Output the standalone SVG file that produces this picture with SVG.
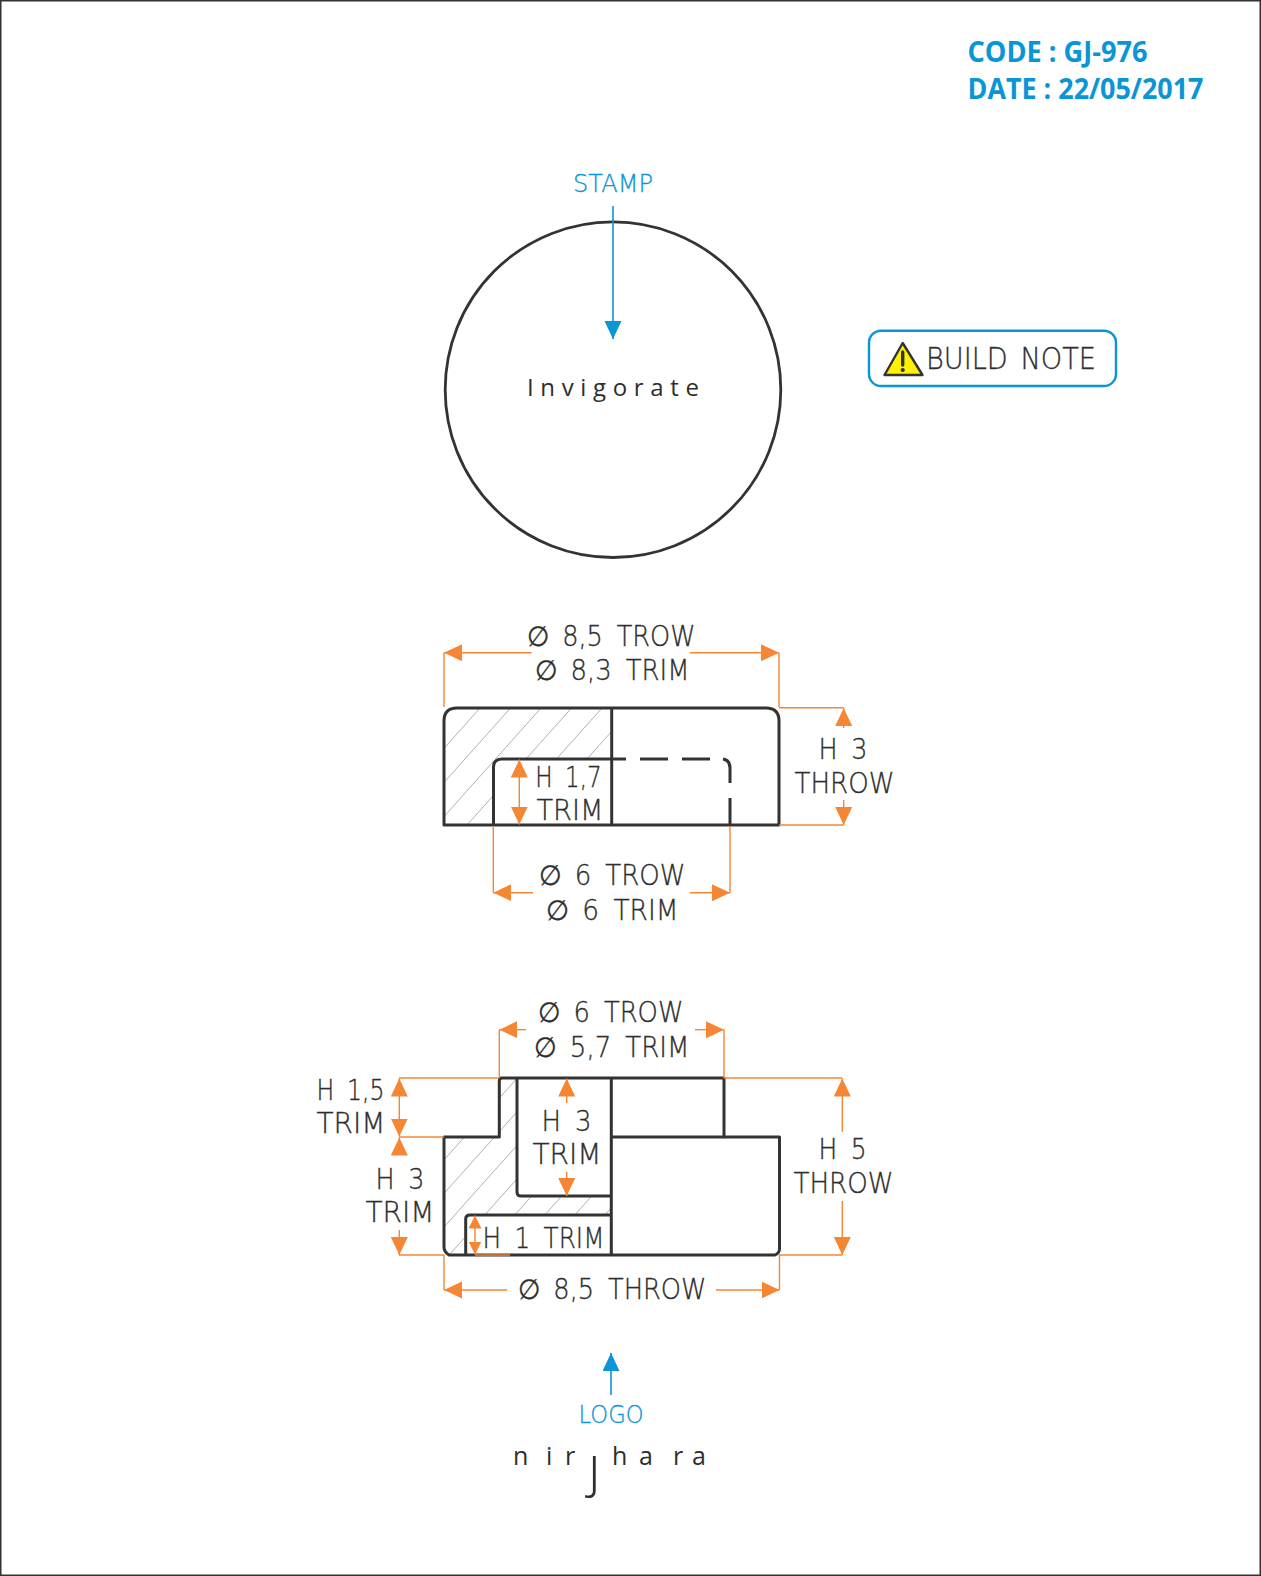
<svg xmlns="http://www.w3.org/2000/svg" width="1261" height="1576" viewBox="0 0 1261 1576">
<style>
.o{fill:none;stroke:#333;stroke-width:3;stroke-linejoin:round}
.h{fill:none;stroke:#a8a8a8;stroke-width:.9}
.d{fill:none;stroke:#f58634;stroke-width:1.4}
.a{marker-end:url(#ah)}
.b{marker-start:url(#ah);marker-end:url(#ah)}
.s{marker-start:url(#as);marker-end:url(#as)}
.u{fill:none;stroke:#0a95d6;stroke-width:1.6;marker-end:url(#ab)}
text{font-family:"DejaVu Sans","Liberation Sans",sans-serif}
.t{font-size:28px;font-weight:200;word-spacing:.22em;fill:#2e2e2e;stroke:#2e2e2e;stroke-width:.35}
.bl{font-size:24px;font-weight:200;fill:#0a95d6;stroke:#0a95d6;stroke-width:.3}
.ti{font-family:"Open Sans","Noto Sans",sans-serif;font-size:28px;font-weight:700;fill:#0a95d6}
</style>
<defs>
<marker id="ah" markerUnits="userSpaceOnUse" markerWidth="20" markerHeight="20" refX="18" refY="8.5" orient="auto-start-reverse"><path d="M0 0L18 8.5L0 17Z" fill="#f58634"/></marker>
<marker id="as" markerUnits="userSpaceOnUse" markerWidth="15" markerHeight="15" refX="13" refY="6.5" orient="auto-start-reverse"><path d="M0 0L13 6.5L0 13Z" fill="#f58634"/></marker>
<marker id="ab" markerUnits="userSpaceOnUse" markerWidth="20" markerHeight="20" refX="18" refY="8.5" orient="auto"><path d="M0 0L18 8.5L0 17Z" fill="#0a95d6"/></marker>
<clipPath id="c1"><path d="M444 708H611.7V759H493.5V825H444Z"/></clipPath>
<clipPath id="c2"><path d="M444 1137H499.3V1078H517V1196H611.3V1215H465.7V1255H444Z"/></clipPath>
<clipPath id="lg"><path d="M500 1446H590V1600H500ZM590 1456H610V1600H590ZM610 1430H720V1600H610Z"/></clipPath>
</defs>
<rect x="0" y="0" width="1261" height="1576" fill="#fff"/>
<rect x=".75" y=".75" width="1259.5" height="1574.5" fill="none" stroke="#333" stroke-width="1.5"/>

<g id="header">
<text class="ti" x="967.5" y="62.3" textLength="180" lengthAdjust="spacingAndGlyphs">CODE : GJ-976</text>
<text class="ti" x="967.5" y="99" textLength="236" lengthAdjust="spacingAndGlyphs">DATE : 22/05/2017</text>
</g>

<g id="stamp-view">
<circle cx="613" cy="389.7" r="167.8" fill="none" stroke="#333" stroke-width="2.8"/>
<text x="613" y="396" text-anchor="middle" textLength="172" style="font-family:'Open Sans','Noto Sans',sans-serif;font-size:24px;font-weight:400;fill:#2e2e2e">Invigorate</text>
</g>

<g id="build-note">
<rect x="869" y="330.7" width="247" height="55.3" rx="12" fill="#fff" stroke="#0a95d6" stroke-width="2.4"/>
<path d="M902.7 343L922.5 375H884.5Z" fill="#fff200" stroke="#333" stroke-width="2.4" stroke-linejoin="round"/>
<path d="M902.7 352V365" stroke="#333" stroke-width="3.4" stroke-linecap="round"/>
<circle cx="902.7" cy="370" r="2.1" fill="#333"/>
<text x="926" y="369" textLength="170" lengthAdjust="spacingAndGlyphs" style="font-size:30px;font-weight:200;word-spacing:.15em;fill:#2e2e2e;stroke:#2e2e2e;stroke-width:.35">BUILD NOTE</text>
</g>

<g id="section-top">
<g clip-path="url(#c1)" class="h">
<path d="M480 708L280 932M510.5 708L310.5 932M541 708L341 932M571.5 708L371.5 932M602 708L402 932M632.5 708L432.5 932"/>
</g>
<path class="o" d="M444 825V721Q444 708 457 708H766Q779 708 779 721V825Z"/>
<path class="o" d="M611.7 708V825"/>
<path class="o" d="M493.5 825V767Q493.5 759 502 759H626M640 759H668M682 759H710M723 759Q730 760 730 768V783M730 798V825"/>
</g>

<g id="section-bottom">
<g clip-path="url(#c2)" class="h">
<path d="M441.7 1196L261.7 1398M471.7 1196L291.7 1398M501.7 1196L321.7 1398M531.7 1196L351.7 1398M561.7 1196L381.7 1398M591.7 1196L411.7 1398M621.7 1196L441.7 1398M411.7 1196L520 1075M441.7 1196L550 1075M471.7 1196L580 1075M501.7 1196L610 1075M531.7 1196L640 1075"/>
</g>
<path class="o" d="M449 1255Q444 1252 444 1247V1137H499.3V1081Q499.3 1078 502 1078H724V1137H779.5V1249Q779.5 1253 775 1255Z"/>
<path class="o" d="M611.3 1078V1255M611.3 1137H724"/>
<path class="o" d="M517 1078V1192Q517 1196 521 1196H611.3"/>
<path class="o" d="M465.7 1255V1219Q465.7 1215 470 1215H611.3"/>
</g>

<g id="connectors">
<path class="d" d="M444 707V652.7M779 707V652.7M779 707.7H843.7M779 825H843.7M493.3 826V892.7M730 826V892.7"/>
<path class="d a" d="M531.5 652.7H444"/>
<path class="d a" d="M690 652.7H779"/>
<path class="d a" d="M843.7 728V708"/>
<path class="d a" d="M843.7 800V825"/>
<path class="d b" d="M519.3 759.5V824.5"/>
<path class="d a" d="M533 892.7H493.3"/>
<path class="d a" d="M690 892.7H730"/>

<path class="d" d="M499.3 1078V1029.7M724 1078V1029.7M399 1078H499M399 1137H444M399 1255H444M444 1255V1290M779.5 1255V1290M724 1078H842.3M779 1255H842.3M475 1255H510"/>
<path class="d a" d="M526 1029.7H499.3"/>
<path class="d a" d="M695 1029.7H724"/>
<path class="d b" d="M399.3 1078.5V1136.5"/>
<path class="d a" d="M399.3 1153V1137.5"/>
<path class="d a" d="M399.3 1230V1255"/>
<path class="d a" d="M566.7 1103V1078.5"/>
<path class="d a" d="M566.7 1171.7V1196"/>
<path class="d s" d="M475 1215.5V1254.5"/>
<path class="d a" d="M507 1290H444"/>
<path class="d a" d="M716 1290H779.5"/>
<path class="d a" d="M842.3 1131.7V1078.5"/>
<path class="d a" d="M842.3 1201V1255"/>

<path class="u" d="M613 206V339"/>
<path class="u" d="M611 1395V1353"/>
</g>

<g id="dimension-labels">
<text class="t" x="526.5" y="645.7" textLength="169" lengthAdjust="spacingAndGlyphs">∅ 8,5 TROW</text>
<text class="t" x="534.5" y="680" textLength="155" lengthAdjust="spacingAndGlyphs">∅ 8,3 TRIM</text>
<text class="t" x="535.2" y="786.7" textLength="66.5" lengthAdjust="spacingAndGlyphs">H 1,7</text>
<text class="t" x="536.5" y="820" textLength="67" lengthAdjust="spacingAndGlyphs">TRIM</text>
<text class="t" x="818.5" y="759" textLength="49" lengthAdjust="spacingAndGlyphs">H 3</text>
<text class="t" x="794.5" y="793" textLength="100" lengthAdjust="spacingAndGlyphs">THROW</text>
<text class="t" x="538.5" y="885" textLength="147" lengthAdjust="spacingAndGlyphs">∅ 6 TROW</text>
<text class="t" x="545.5" y="920" textLength="133" lengthAdjust="spacingAndGlyphs">∅ 6 TRIM</text>
<text class="t" x="537.5" y="1021.7" textLength="146" lengthAdjust="spacingAndGlyphs">∅ 6 TROW</text>
<text class="t" x="533.5" y="1056.7" textLength="156" lengthAdjust="spacingAndGlyphs">∅ 5,7 TRIM</text>
<text class="t" x="316.5" y="1100" textLength="68" lengthAdjust="spacingAndGlyphs">H 1,5</text>
<text class="t" x="316.5" y="1133" textLength="69" lengthAdjust="spacingAndGlyphs">TRIM</text>
<text class="t" x="375.5" y="1189" textLength="49" lengthAdjust="spacingAndGlyphs">H 3</text>
<text class="t" x="365.5" y="1222" textLength="69" lengthAdjust="spacingAndGlyphs">TRIM</text>
<text class="t" x="541.5" y="1130.7" textLength="50" lengthAdjust="spacingAndGlyphs">H 3</text>
<text class="t" x="532.5" y="1164" textLength="69" lengthAdjust="spacingAndGlyphs">TRIM</text>
<text class="t" x="482.5" y="1248" textLength="122" lengthAdjust="spacingAndGlyphs">H 1 TRIM</text>
<text class="t" x="517.5" y="1299" textLength="189" lengthAdjust="spacingAndGlyphs">∅ 8,5 THROW</text>
<text class="t" x="818.5" y="1159" textLength="48" lengthAdjust="spacingAndGlyphs">H 5</text>
<text class="t" x="793.5" y="1192.7" textLength="100" lengthAdjust="spacingAndGlyphs">THROW</text>
</g>

<g id="callouts">
<text class="bl" x="573" y="191.5" textLength="80" lengthAdjust="spacingAndGlyphs">STAMP</text>
<text class="bl" x="578.5" y="1423" textLength="65" lengthAdjust="spacingAndGlyphs">LOGO</text>
</g>

<g id="logo">
<text clip-path="url(#lg)" y="1465" style="font-family:'Open Sans','Noto Sans',sans-serif;font-size:25px;font-weight:400;fill:#2e2e2e"><tspan x="513">n</tspan><tspan x="546">i</tspan><tspan x="565">r</tspan><tspan x="588" y="1485" style="font-size:56px;font-weight:300">j</tspan><tspan x="612" y="1465">h</tspan><tspan x="639">a</tspan><tspan x="673">r</tspan><tspan x="692">a</tspan></text>
</g>
</svg>
